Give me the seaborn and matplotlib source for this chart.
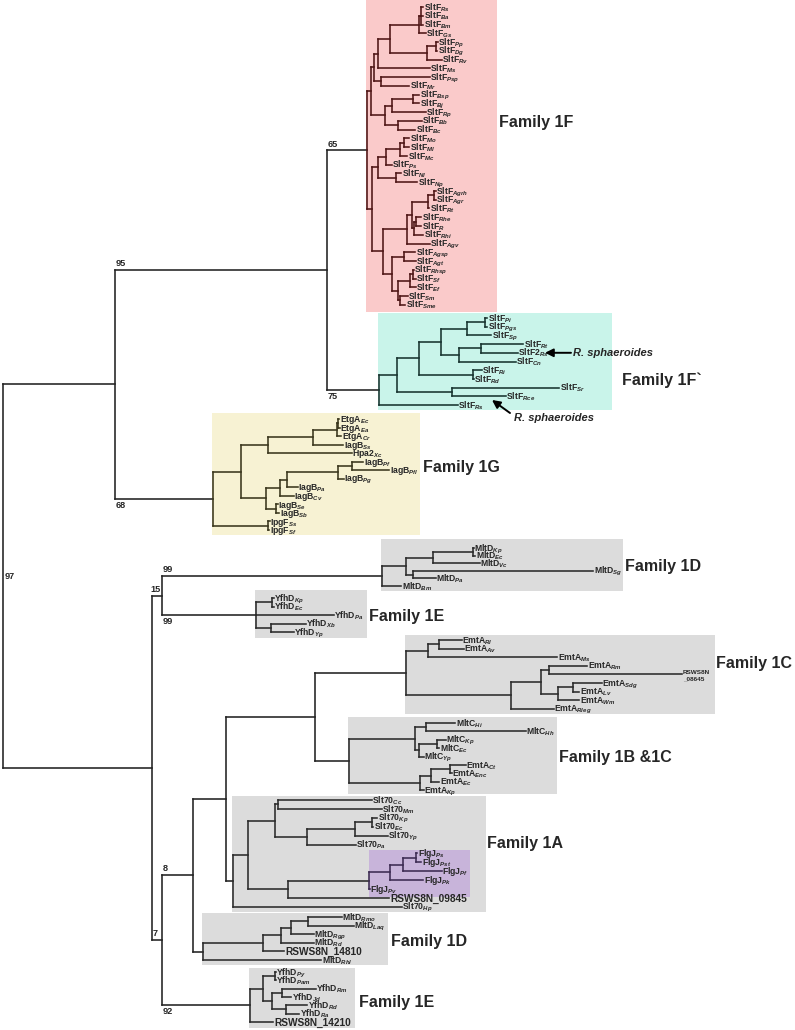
import re
import numpy as np
import pandas as pd
import matplotlib
matplotlib.use("Agg")
import matplotlib.pyplot as plt
from matplotlib.patches import Rectangle
import seaborn as sns

# ---------------- data ----------------
# Clades in Newick form.  Leaf "Base@Sub" -> Base with italic subscript Sub,
# "~" = line break.  Numbers are distances from the root (tree units).
U12_1F = ("(((((SltF@Rs:423,SltF@Ba:423,SltF@Bm:423):421,SltF@Gs:426):419,"
          "((SltF@Pp:438,SltF@Dg:437):436,SltF@Rv:442):427):390,SltF@Ms:430):378,"
          "(SltF@Psp:430,SltF@Mr:409):381):374")
U34_1F = "(((SltF@Bsp:419,SltF@Bj:419):413,SltF@Rp:426):392,(SltF@Bb:422,SltF@Bc:415):398):385"
LP_1F = ("((((SltF@Mo:409,SltF@Ml:409):404,SltF@Mc:407):400,SltF@Ps:392):386,"
         "(SltF@Nl:401,SltF@Np:417):396):378")
LQ_1F = ("(((((SltF@Agrh:436,SltF@Agr:436):434,SltF@Rt:429):428,((SltF@Rhe:421,SltF@R:421):416,"
         "SltF@Rhi:423):414):412,SltF@Agv:430):407,((SltF@Agsp:415,SltF@Agt:416):404,"
         "(((SltF@Rhsp:414,SltF@Sf:416):413,SltF@Ef:416):410,(SltF@Sm:408,SltF@Sme:405):400):398):392):383")
CLADE_1F = "((" + U12_1F + "," + U34_1F + "):371,(" + LP_1F + "," + LQ_1F + "):372):367"
CLADE_1FP = ("((((((SltF@Pi:487,SltF@Pgs:487):485,SltF@Sp:491):467,((SltF@Rt:523,SltF2@Rs:518):481,"
             "SltF@Cn:516):459):441,(SltF@Ri:482,SltF@Rd:474):473):419,(SltF@Sr:559,SltF@Rce:506):452):397,"
             "SltF@Rs:458):379")
CLADE_1G = ("((((((EtgA@Ec:339,EtgA@Ea:340):338,EtgA@Cr:341):337,IagB@Ss:343):313,Hpa2@Xc:352):268,"
            "(((((IagB@Pf:363,IagB@Pfl:389):352,IagB@Pg:344):338,IagB@Pa:298):287,IagB@Cv:294):280,"
            "(IagB@Se:278,IagB@Sb:279):276):266):241,(IpgF@Ss:270,IpgF@Sf:269):268):213")
CLADE_1DT = "((((MltD@Kp:474,MltD@Ec:475):473,MltD@Vc:480):433,(MltD@Sg:593,MltD@Pa:436):413):406,MltD@Bm:401):382"
CLADE_1ET = "((YfhD@Kp:274,YfhD@Ec:274):272,YfhD@Pa:334,(YfhD@Xb:306,YfhD@Yp:294):271):256"
CLADE_1C = ("(((EmtA@Rl:462,EmtA@Av:464):439,EmtA@Ms:557):428,(((EmtA@Rm:587,RSWS8N~_08645:682):549,"
            "((EmtA@Sdg:602,EmtA@Lv:579):573,EmtA@Wm:579):558):541,EmtA@Rleg:554):511):406")
CLADE_1BC = ("(((MltC@Hi:455,MltC@Hh:526):426,((MltC@Kp:446,MltC@Ec:439):437,MltC@Yp:424):419):415,"
             "(((EmtA@Ct:466,EmtA@Enc:452):450,EmtA@Ec:439):431,EmtA@Kp:424):420):349")
CLADE_1A = ("((((Slt70@Cc:372,Slt70@Mm:382):278,(((Slt70@Kp:377,Slt70@Ec:373):372,Slt70@Yp:388):355,"
            "Slt70@Pa:356):307):275,(((((FlgJ@Ps:417,FlgJ@Pst:421):416,FlgJ@Pf:442):403,FlgJ@Pk:423):390,"
            "FlgJ@Pv:370)FlgJ:369,RSWS8N_09845:389):288):248,Slt70@Hp:402):233")
CLADE_1DB = "(((((MltD@Rmo:342,MltD@Laq:354):308,MltD@Rgp:314):291,MltD@Rd:314):281,RSWS8N_14810:284):263,MltD@Rhl:321):203"
CLADE_1EB = ("(((YfhD@Py:276,YfhD@Pam:276):275,((YfhD@Rm:316,YfhD@Jd:291):282,(YfhD@Rd:307,YfhD@Ra:299):286):272):263,"
             "RSWS8N_14210:273):250")
BACKBONE = ("(((#1F,#1Fp)A1:327,#1G)A:115,((#1Dt,#1Et)P15:162,((((#1C,#1BC)N10:315,#1A)N9:226,#1Db)N8:193,"
            "#1Eb)P7:162)B:152)root:3")

FAMILY_KEYS = ["1F", "1Fp", "1G", "1Dt", "1Et", "1C", "1BC", "1A", "1Db", "1Eb"]
FAMILY_TREES = [CLADE_1F, CLADE_1FP, CLADE_1G, CLADE_1DT, CLADE_1ET, CLADE_1C, CLADE_1BC, CLADE_1A, CLADE_1DB, CLADE_1EB]
FAMILY_NAMES = ["Family 1F", "Family 1F`", "Family 1G", "Family 1D", "Family 1E",
                "Family 1C", "Family 1B &1C", "Family 1A", "Family 1D", "Family 1E"]

BOOT_NODES = ["A1", "#1G", "#1F", "#1Fp", "P15", "#1Dt", "#1Et", "N8", "#1Eb", "P7", "root"]
BOOT_VALUES = ["95", "68", "65", "75", "15", "99", "99", "8", "92", "7", "97"]
BOOT_SIDE = ["above", "below", "above", "below", "above_left", "above", "below", "above", "below", "above", "right"]

ANNOT_FAMILY = ["1Fp", "1Fp"]
ANNOT_LEAF = ["SltF2@Rs", "SltF@Rs"]
ANNOT_TEXT = ["R. sphaeroides", "R. sphaeroides"]

# ---------------- layout / style ----------------
BLOCK_TOP = [7, 318, 419, 548, 598, 640, 723, 800, 917, 972]
BLOCK_STEP = [8.76, 8.7, 8.54, 7.6, 8.6, 8.6, 8.4, 8.9, 8.6, 8.3]
RECT_COLOR = ["#FACACA", "#C9F4EA", "#F7F2D3", "#DCDCDC", "#DCDCDC", "#DCDCDC", "#DCDCDC", "#DCDCDC", "#DCDCDC", "#DCDCDC"]
LINE_COLOR = {"bb": "#222222", "1F": "#4d1515", "1Fp": "#17332f", "1G": "#3a361c", "1Dt": "#2a2a2a",
              "1Et": "#2a2a2a", "1C": "#2a2a2a", "1BC": "#2a2a2a", "1A": "#2a2a2a", "1Db": "#2a2a2a",
              "1Eb": "#2a2a2a", "FlgJ": "#3c2b52"}
RECT_PAD_RIGHT = [28, 27, 2, 1, 3, 5, 2, 17, 2, 4]
RECT_PAD_TOP = [7, 5, 6, 9, 8, 5, 6, 4, 4, 4]
RECT_PAD_BOTTOM = [7, 5, 5, 5, 6, 5, 4, 5, 5, 6]
LABEL_DX = [2, 10, 3, 2, 2, 1, 2, 1, 3, 4]
LABEL_DY = [-33, 19, -7, -1, 1, -11, 1, -10, 3, 6]

sns.set_theme(style="white")
plt.rcParams["font.family"] = ["Liberation Sans", "DejaVu Sans"]
plt.rcParams["mathtext.fontset"] = "custom"
plt.rcParams["mathtext.rm"] = "Liberation Sans:bold"
plt.rcParams["mathtext.it"] = "Liberation Sans:italic:bold"
plt.rcParams["mathtext.bf"] = "Liberation Sans:bold"


class Node:
    def __init__(self):
        self.children = []
        self.name = ""
        self.depth = None
        self.parent = None
        self.x = 0.0
        self.y = 0.0
        self.grp = "bb"
        self.fam = None


def parse(s):
    pos = 0

    def node_():
        nonlocal pos
        n = Node()
        if s[pos] == "(":
            pos += 1
            while True:
                c = node_()
                c.parent = n
                n.children.append(c)
                if s[pos] == ",":
                    pos += 1
                    continue
                if s[pos] == ")":
                    pos += 1
                    break
        m = re.match(r"[^,():]*", s[pos:])
        n.name = m.group(0)
        pos += len(n.name)
        if pos < len(s) and s[pos] == ":":
            pos += 1
            m = re.match(r"[0-9.]+", s[pos:])
            n.depth = float(m.group(0))
            pos += len(m.group(0))
        return n

    return node_()


def leaves(n):
    if not n.children:
        return [n]
    out = []
    for c in n.children:
        out += leaves(c)
    return out


def walk(n):
    yield n
    for c in n.children:
        yield from walk(c)


# build tree
root = parse(BACKBONE)
fam_roots = {}
for key, nwk, top, step in zip(FAMILY_KEYS, FAMILY_TREES, BLOCK_TOP, BLOCK_STEP):
    sub = parse(nwk)
    for i, lf in enumerate(leaves(sub)):
        lf.y = top + i * step
    for nd in walk(sub):
        nd.grp = key
        nd.fam = key
    for nd in walk(sub):
        if nd.name == "FlgJ":
            for d in walk(nd):
                d.grp = "FlgJ"
    fam_roots[key] = sub

for nd in list(walk(root)):
    if nd.name.startswith("#"):
        key = nd.name[1:]
        sub = fam_roots[key]
        par = nd.parent
        idx = par.children.index(nd)
        par.children[idx] = sub
        sub.parent = par
        sub.name = nd.name

for nd in walk(root):
    nd.x = nd.depth


def set_y(n):
    if n.children:
        for c in n.children:
            set_y(c)
        n.y = 0.5 * (n.children[0].y + n.children[-1].y)


set_y(root)
by_name = {nd.name: nd for nd in walk(root) if nd.name and "@" not in nd.name}

# segments
rows = []
sid = 0
for nd in walk(root):
    if nd.children:
        ys = [c.y for c in nd.children]
        rows += [(sid, nd.x, min(ys), nd.grp), (sid, nd.x, max(ys), nd.grp)]
        sid += 1
        for c in nd.children:
            rows += [(sid, nd.x, c.y, nd.grp), (sid, c.x, c.y, nd.grp)]
            sid += 1
seg = pd.DataFrame(rows, columns=["seg", "x", "y", "grp"])

fig = plt.figure(figsize=(7.95, 10.30), dpi=100)
ax = fig.add_axes([0, 0, 1, 1])
sns.lineplot(data=seg, x="x", y="y", hue="grp", units="seg", estimator=None, sort=False,
             palette=LINE_COLOR, legend=False, lw=1.15, solid_capstyle="projecting", ax=ax, zorder=3)
ax.set_xlim(0, 795)
ax.set_ylim(1030, 0)
ax.axis("off")


def label_of(name):
    if "@" in name:
        base, sub = name.split("@")
        return base + "$_{" + sub + "}$"
    return name.replace("~", "\n")


leaf_texts = {k: [] for k in FAMILY_KEYS}
leaf_nodes = {}
for key in FAMILY_KEYS:
    for lf in leaves(fam_roots[key]):
        leaf_nodes[(key, lf.name)] = lf
        if "~" in lf.name:
            t = ax.text(lf.x + 1, lf.y + 1, label_of(lf.name), fontsize=4.6, fontweight="bold",
                        ha="left", va="center", linespacing=1.3, zorder=4)
        elif lf.name.startswith("RSWS"):
            t = ax.text(lf.x + 1, lf.y + 3.6, label_of(lf.name), fontsize=7.3, fontweight="bold",
                        ha="left", va="baseline", zorder=4)
        else:
            t = ax.text(lf.x + 0.5, lf.y + 3.1, label_of(lf.name), fontsize=6.2, fontweight="bold",
                        ha="left", va="baseline", zorder=4)
        leaf_texts[key].append(t)

fig.canvas.draw()
rend = fig.canvas.get_renderer()
inv = ax.transData.inverted()


def text_right(t):
    bb = t.get_window_extent(rend)
    return inv.transform((bb.x1, bb.y1))[0]


for i, key in enumerate(FAMILY_KEYS):
    fr = fam_roots[key]
    lvs = leaves(fr)
    ymin = min(l.y for l in lvs)
    ymax = max(l.y for l in lvs)
    xr = max(text_right(t) for t in leaf_texts[key]) + RECT_PAD_RIGHT[i]
    x0 = fr.x - 1
    ytop = ymin - RECT_PAD_TOP[i]
    ybot = ymax + RECT_PAD_BOTTOM[i]
    ax.add_patch(Rectangle((x0, ytop), xr - x0, ybot - ytop,
                           facecolor=RECT_COLOR[i], edgecolor="none", zorder=1))
    ax.text(xr + LABEL_DX[i], 0.5 * (ymin + ymax) + LABEL_DY[i], FAMILY_NAMES[i],
            fontsize=11.5, fontweight="bold", ha="left", va="center", zorder=4)

# FlgJ highlight
fl = by_name["FlgJ"]
fl_leaves = leaves(fl)
fl_texts = [t for t, lf in zip(leaf_texts["1A"], leaves(fam_roots["1A"])) if lf in fl_leaves]
fxr = max(text_right(t) for t in fl_texts) + 1
fy0 = min(l.y for l in fl_leaves) - 3
fy1 = max(l.y for l in fl_leaves) + 8
ax.add_patch(Rectangle((fl.x, fy0), fxr - fl.x, fy1 - fy0, facecolor="#C8B4DA", edgecolor="none", zorder=2))

# bootstrap values
for nm, val, side in zip(BOOT_NODES, BOOT_VALUES, BOOT_SIDE):
    nd = by_name[nm]
    if side == "right":
        ax.text(nd.x + 2, nd.y, val, fontsize=6.6, fontweight="bold", ha="left", va="center", zorder=4)
        continue
    px = nd.parent.x
    if side == "above":
        ax.text(px + 1, nd.y - 1.8, val, fontsize=6.6, fontweight="bold", ha="left", va="bottom", zorder=4)
    elif side == "below":
        ax.text(px + 1, nd.y + 2.0, val, fontsize=6.6, fontweight="bold", ha="left", va="top", zorder=4)
    else:
        ax.text(px - 2, nd.y - 1.8, val, fontsize=6.6, fontweight="bold", ha="left", va="bottom", zorder=4)

# arrows to R. sphaeroides genes
arrow_geom = [((27, 0), (53, 0), (55, 0)), ((34, -5), (52, 8), (56, 13))]
for fam, leaf, txt, (hd, tl, tx) in zip(ANNOT_FAMILY, ANNOT_LEAF, ANNOT_TEXT, arrow_geom):
    lf = leaf_nodes[(fam, leaf)]
    ax.annotate("", xy=(lf.x + hd[0], lf.y + hd[1]), xytext=(lf.x + tl[0], lf.y + tl[1]),
                arrowprops=dict(arrowstyle="-|>", color="black", lw=1.4, mutation_scale=12,
                                shrinkA=0, shrinkB=0), zorder=5)
    ax.text(lf.x + tx[0], lf.y + tx[1], txt, fontsize=8, fontweight="bold", fontstyle="italic",
            ha="left", va="center", zorder=5)

fig.savefig("out.png", dpi=100)
